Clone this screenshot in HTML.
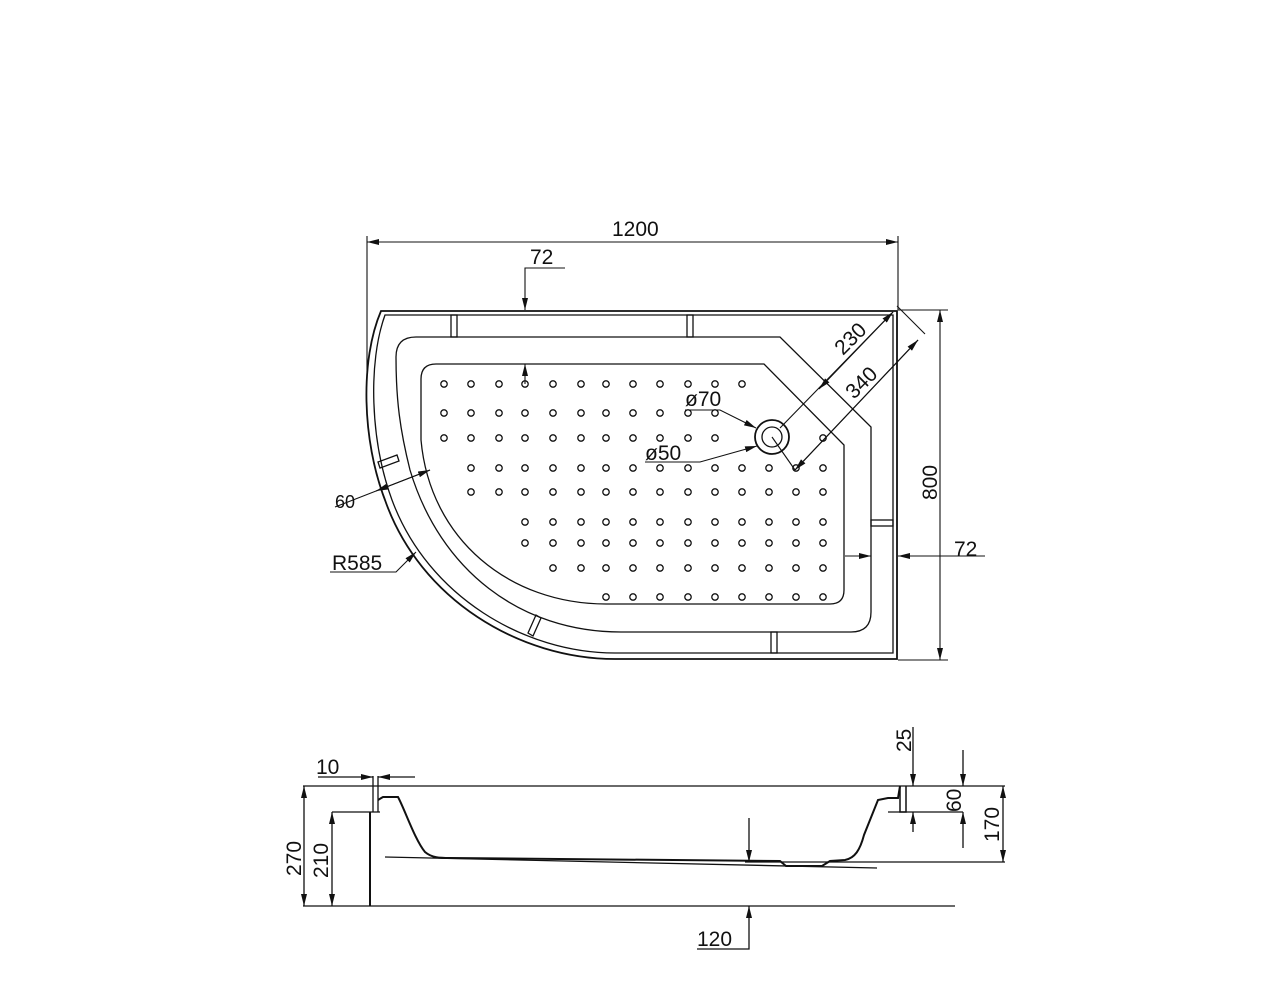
<!DOCTYPE html>
<html><head><meta charset="utf-8"><style>html,body{margin:0;padding:0;background:#fff}svg{display:block}text{font-family:"Liberation Sans",sans-serif;font-size:21px;fill:#111}</style></head>
<body>
<svg width="1280" height="989" viewBox="0 0 1280 989" xmlns="http://www.w3.org/2000/svg">
<defs>
<marker id="a" viewBox="0 0 12 6" refX="12" refY="3" markerWidth="12" markerHeight="6" orient="auto" markerUnits="userSpaceOnUse"><path d="M0,0 L12,3 L0,6 z" fill="#111"/></marker>
</defs>
<g fill="none" stroke="#111" stroke-width="1.3">
<path d="M381,311 L897,311 L897,659 L615,659 C520,659 420,600 385,500 C362,440 360,360 381,311 Z" stroke-width="1.8"/>
<path d="M385,315 L893,315 L893,653 L615,653 C525,653 428,597 392,500 C370,440 368,362 385,315 Z"/>
<path d="M416,337 L780,337 L871,427 L871,612 Q871,632 851,632 L621,632 C520,632 440,570 410,470 C400,430 396,400 396,357 Q396,337 416,337 Z"/>
<path d="M436,364 L764,364 L844,445 L844,590 Q844,604 830,604 L606,604 C510,604 430,540 421,440 L421,379 Q421,364 436,364 Z"/>
<rect x="451" y="315" width="6" height="22"/><rect x="687" y="315" width="6" height="22"/>
<rect x="771" y="632" width="6" height="21"/><rect x="871" y="520" width="22" height="6"/>
<path d="M378,462 L397,455 L399,461 L380,468 Z"/><path d="M528,633 L536,615 L541,618 L533,636 Z"/>
<circle cx="772" cy="437" r="17" stroke-width="1.8"/><circle cx="772" cy="437" r="10"/>
</g>
<g fill="none" stroke="#111" stroke-width="1.3">
<circle cx="444" cy="384" r="3.2"/><circle cx="471" cy="384" r="3.2"/><circle cx="499" cy="384" r="3.2"/><circle cx="525" cy="384" r="3.2"/><circle cx="553" cy="384" r="3.2"/><circle cx="581" cy="384" r="3.2"/><circle cx="606" cy="384" r="3.2"/><circle cx="633" cy="384" r="3.2"/><circle cx="660" cy="384" r="3.2"/><circle cx="688" cy="384" r="3.2"/><circle cx="715" cy="384" r="3.2"/><circle cx="742" cy="384" r="3.2"/>
<circle cx="444" cy="413" r="3.2"/><circle cx="471" cy="413" r="3.2"/><circle cx="499" cy="413" r="3.2"/><circle cx="525" cy="413" r="3.2"/><circle cx="553" cy="413" r="3.2"/><circle cx="581" cy="413" r="3.2"/><circle cx="606" cy="413" r="3.2"/><circle cx="633" cy="413" r="3.2"/><circle cx="660" cy="413" r="3.2"/><circle cx="688" cy="413" r="3.2"/><circle cx="715" cy="413" r="3.2"/>
<circle cx="444" cy="438" r="3.2"/><circle cx="471" cy="438" r="3.2"/><circle cx="499" cy="438" r="3.2"/><circle cx="525" cy="438" r="3.2"/><circle cx="553" cy="438" r="3.2"/><circle cx="581" cy="438" r="3.2"/><circle cx="606" cy="438" r="3.2"/><circle cx="633" cy="438" r="3.2"/><circle cx="660" cy="438" r="3.2"/><circle cx="688" cy="438" r="3.2"/><circle cx="715" cy="438" r="3.2"/><circle cx="823" cy="438" r="3.2"/>
<circle cx="471" cy="468" r="3.2"/><circle cx="499" cy="468" r="3.2"/><circle cx="525" cy="468" r="3.2"/><circle cx="553" cy="468" r="3.2"/><circle cx="581" cy="468" r="3.2"/><circle cx="606" cy="468" r="3.2"/><circle cx="633" cy="468" r="3.2"/><circle cx="660" cy="468" r="3.2"/><circle cx="688" cy="468" r="3.2"/><circle cx="715" cy="468" r="3.2"/><circle cx="742" cy="468" r="3.2"/><circle cx="769" cy="468" r="3.2"/><circle cx="796" cy="468" r="3.2"/><circle cx="823" cy="468" r="3.2"/>
<circle cx="471" cy="492" r="3.2"/><circle cx="499" cy="492" r="3.2"/><circle cx="525" cy="492" r="3.2"/><circle cx="553" cy="492" r="3.2"/><circle cx="581" cy="492" r="3.2"/><circle cx="606" cy="492" r="3.2"/><circle cx="633" cy="492" r="3.2"/><circle cx="660" cy="492" r="3.2"/><circle cx="688" cy="492" r="3.2"/><circle cx="715" cy="492" r="3.2"/><circle cx="742" cy="492" r="3.2"/><circle cx="769" cy="492" r="3.2"/><circle cx="796" cy="492" r="3.2"/><circle cx="823" cy="492" r="3.2"/>
<circle cx="525" cy="522" r="3.2"/><circle cx="553" cy="522" r="3.2"/><circle cx="581" cy="522" r="3.2"/><circle cx="606" cy="522" r="3.2"/><circle cx="633" cy="522" r="3.2"/><circle cx="660" cy="522" r="3.2"/><circle cx="688" cy="522" r="3.2"/><circle cx="715" cy="522" r="3.2"/><circle cx="742" cy="522" r="3.2"/><circle cx="769" cy="522" r="3.2"/><circle cx="796" cy="522" r="3.2"/><circle cx="823" cy="522" r="3.2"/>
<circle cx="525" cy="543" r="3.2"/><circle cx="553" cy="543" r="3.2"/><circle cx="581" cy="543" r="3.2"/><circle cx="606" cy="543" r="3.2"/><circle cx="633" cy="543" r="3.2"/><circle cx="660" cy="543" r="3.2"/><circle cx="688" cy="543" r="3.2"/><circle cx="715" cy="543" r="3.2"/><circle cx="742" cy="543" r="3.2"/><circle cx="769" cy="543" r="3.2"/><circle cx="796" cy="543" r="3.2"/><circle cx="823" cy="543" r="3.2"/>
<circle cx="553" cy="568" r="3.2"/><circle cx="581" cy="568" r="3.2"/><circle cx="606" cy="568" r="3.2"/><circle cx="633" cy="568" r="3.2"/><circle cx="660" cy="568" r="3.2"/><circle cx="688" cy="568" r="3.2"/><circle cx="715" cy="568" r="3.2"/><circle cx="742" cy="568" r="3.2"/><circle cx="769" cy="568" r="3.2"/><circle cx="796" cy="568" r="3.2"/><circle cx="823" cy="568" r="3.2"/>
<circle cx="606" cy="597" r="3.2"/><circle cx="633" cy="597" r="3.2"/><circle cx="660" cy="597" r="3.2"/><circle cx="688" cy="597" r="3.2"/><circle cx="715" cy="597" r="3.2"/><circle cx="742" cy="597" r="3.2"/><circle cx="769" cy="597" r="3.2"/><circle cx="796" cy="597" r="3.2"/><circle cx="823" cy="597" r="3.2"/>
</g>
<g fill="none" stroke="#111" stroke-width="1.1">
<line x1="367" y1="236" x2="367" y2="372"/><line x1="898" y1="236" x2="898" y2="310"/>
<path d="M367,242 L898,242" marker-end="url(#a)"/><path d="M898,242 L367,242" marker-end="url(#a)"/>
<path d="M565,268 L525,268 L525,310" marker-end="url(#a)"/><path d="M525,384 L525,364" marker-end="url(#a)"/>
<line x1="898" y1="310" x2="948" y2="310"/><line x1="898" y1="660" x2="948" y2="660"/>
<path d="M940,485 L940,310" marker-end="url(#a)"/><path d="M940,485 L940,660" marker-end="url(#a)"/>
<path d="M845,556 L871,556" marker-end="url(#a)"/><path d="M985,556 L898,556" marker-end="url(#a)"/>
<path d="M780,428 L893,312" marker-end="url(#a)"/><path d="M893,312 L819,389" marker-end="url(#a)"/>
<line x1="897" y1="306" x2="925" y2="334"/>
<path d="M795,470 L918,340" marker-end="url(#a)"/><path d="M918,340 L795,470" marker-end="url(#a)"/>
<line x1="772" y1="437" x2="795" y2="470"/>
<path d="M685,410 L720,410 L756,428" marker-end="url(#a)"/>
<path d="M645,462 L700,462 L757,446" marker-end="url(#a)"/>
<path d="M335,507 L430,470" marker-end="url(#a)"/><path d="M430,470 L376,491" marker-end="url(#a)"/>
<path d="M330,572 L396,572 L416,552" marker-end="url(#a)"/>
</g>
<g>
<text x="612" y="236">1200</text>
<text x="530" y="264">72</text>
<text x="954" y="556">72</text>
<text x="0" y="0" transform="translate(937,500) rotate(-90)">800</text>
<text x="0" y="0" transform="translate(843,356) rotate(-45)">230</text>
<text x="0" y="0" transform="translate(854,400) rotate(-45)">340</text>
<text x="685" y="406">ø70</text>
<text x="645" y="460">ø50</text>
<text x="335" y="508" style="font-size:18px">60</text>
<text x="332" y="570">R585</text>
</g>
<g fill="none" stroke="#111" stroke-width="1.3">
<line x1="303" y1="786" x2="1005" y2="786"/>
<line x1="303" y1="906" x2="955" y2="906"/>
<line x1="332" y1="812" x2="380" y2="812"/>
<line x1="370" y1="812" x2="370" y2="906" stroke-width="2"/>
<path d="M373,776 L373,812 M378,776 L378,812" />
<path d="M378,800 L383,797 L398,797 C405,810 415,840 425,852 C432,858 440,858 450,858 L780,861 L786,866 L822,866 L830,861 L845,860 C855,858 860,850 864,835 L878,800 L888,798 L898,798 L900,786" stroke-width="2"/>
<line x1="385" y1="857" x2="877" y2="868"/>
<line x1="745" y1="862" x2="1005" y2="862"/>
<path d="M900,786 L900,812 L906,812 L906,786" stroke-width="1.5"/>
<line x1="888" y1="812" x2="963" y2="812"/>
<path d="M304,846 L304,786" marker-end="url(#a)"/><path d="M304,846 L304,906" marker-end="url(#a)"/>
<path d="M332,860 L332,812" marker-end="url(#a)"/><path d="M332,860 L332,906" marker-end="url(#a)"/>
<path d="M318,777 L373,777" marker-end="url(#a)"/><path d="M415,777 L378,777" marker-end="url(#a)"/>
<path d="M749,818 L749,862" marker-end="url(#a)"/><path d="M697,949 L749,949 L749,906" marker-end="url(#a)"/>
<path d="M913,727 L913,786" marker-end="url(#a)"/><path d="M913,832 L913,812" marker-end="url(#a)"/>
<path d="M963,750 L963,786" marker-end="url(#a)"/><path d="M963,848 L963,812" marker-end="url(#a)"/>
<path d="M1003,824 L1003,786" marker-end="url(#a)"/><path d="M1003,824 L1003,862" marker-end="url(#a)"/>
</g>
<g>
<text x="316" y="774">10</text>
<text x="0" y="0" transform="translate(301,876) rotate(-90)">270</text>
<text x="0" y="0" transform="translate(328,878) rotate(-90)">210</text>
<text x="697" y="946">120</text>
<text x="0" y="0" transform="translate(911,752) rotate(-90)">25</text>
<text x="0" y="0" transform="translate(961,812) rotate(-90)">60</text>
<text x="0" y="0" transform="translate(999,842) rotate(-90)">170</text>
</g>
</svg>
</body></html>
